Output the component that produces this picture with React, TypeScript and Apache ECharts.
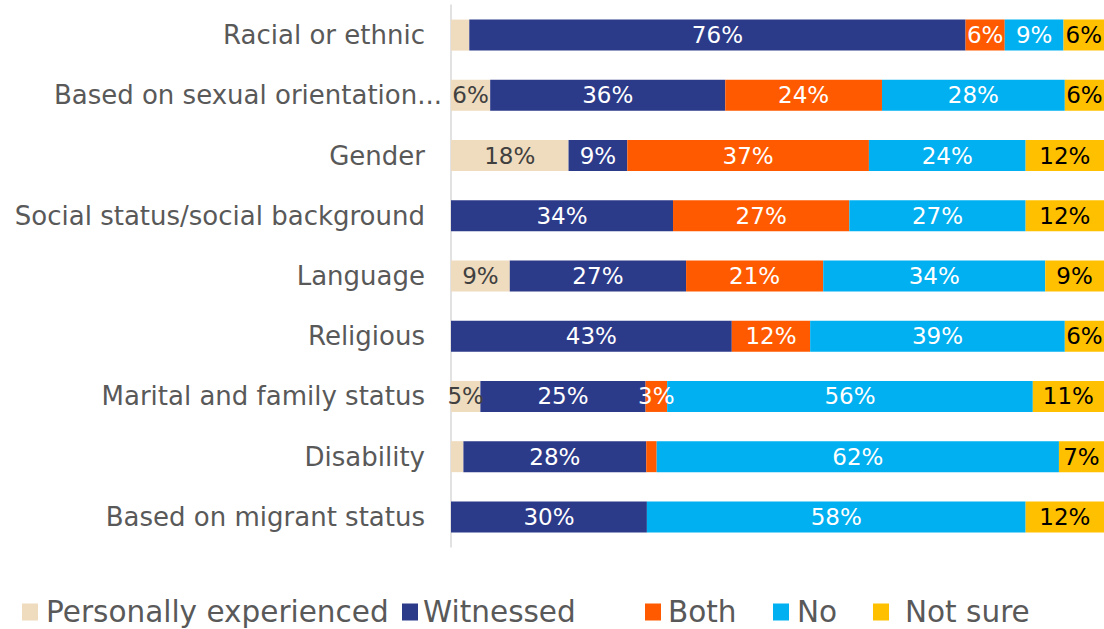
import React, { useEffect, useRef } from "react";
import * as echarts from "echarts";

const categories = [
  "Racial or ethnic",
  "Based on sexual orientation...",
  "Gender",
  "Social status/social background",
  "Language",
  "Religious",
  "Marital and family status",
  "Disability",
  "Based on migrant status",
];

const seriesNames = ["Personally experienced", "Witnessed", "Both", "No", "Not sure"];

const personal = [2.8, 6, 18, 0, 9, 0, 4.5, 1.9, 0];
const witnessed = [76, 36, 9, 34, 27, 43, 25.3, 28, 30];
const both = [6, 24, 37, 27, 21, 12, 3.3, 1.6, 0];
const no = [9, 28, 24, 27, 34, 39, 56, 61.6, 58];
const notSure = [6.2, 6, 12, 12, 9, 6, 10.9, 6.9, 12];

const colors = ["#EFDBBD", "#2C3A8A", "#FF5A00", "#00B0F0", "#FFC000"];
const labelColors = ["#404040", "#FFFFFF", "#FFFFFF", "#FFFFFF", "#000000"];
const legendLefts = [22, 402, 645, 773, 873];
const legendPad = [3, 0, 2, 3, 11];

const FONT = "DejaVu Sans";

export default function App() {
  const ref = useRef<HTMLDivElement>(null);
  useEffect(() => {
    document.body.style.margin = "0";
    const chart = echarts.init(ref.current!, null, { renderer: "svg" });
    const values = [personal, witnessed, both, no, notSure];
    chart.setOption({
      animation: false,
      grid: { left: 451, right: 0, top: 5, bottom: 82, containLabel: false },
      xAxis: { type: "value", min: 0, max: 100, show: false },
      yAxis: {
        type: "category",
        inverse: true,
        data: categories,
        axisLine: { show: true, lineStyle: { color: "#D9D9D9", width: 1.5 } },
        axisTick: { show: false },
        axisLabel: {
          margin: 9,
          color: "#595959",
          fontSize: 26,
          fontFamily: FONT,
          formatter: (v: string) => (v.endsWith("...") ? `{e|${v}}` : `{n|${v}}`),
          rich: {
            n: { fontSize: 26, fontFamily: FONT, color: "#595959", padding: [0, 17, 0, 0] },
            e: { fontSize: 26, fontFamily: FONT, color: "#595959" },
          },
        },
      },
      legend: seriesNames.map((name, i) => ({
        data: [name],
        left: legendLefts[i],
        top: 597,
        icon: "rect",
        itemWidth: 16,
        itemHeight: 17,
        padding: 0,
        textStyle: {
          fontSize: 29.5,
          fontFamily: FONT,
          color: "#595959",
          padding: [0, 0, 0, legendPad[i]],
        },
      })),
      series: seriesNames.map((name, i) => ({
        name,
        type: "bar",
        stack: "total",
        barWidth: 31,
        data: values[i],
        itemStyle: { color: colors[i] },
        label: {
          show: true,
          position: "inside",
          color: labelColors[i],
          fontSize: 23,
          fontFamily: FONT,
          formatter: (p: any) => (p.value >= 3 ? `${Math.round(p.value)}%` : ""),
        },
      })),
    });
    return () => chart.dispose();
  }, []);
  return <div ref={ref} style={{ width: 1104, height: 629 }} />;
}
